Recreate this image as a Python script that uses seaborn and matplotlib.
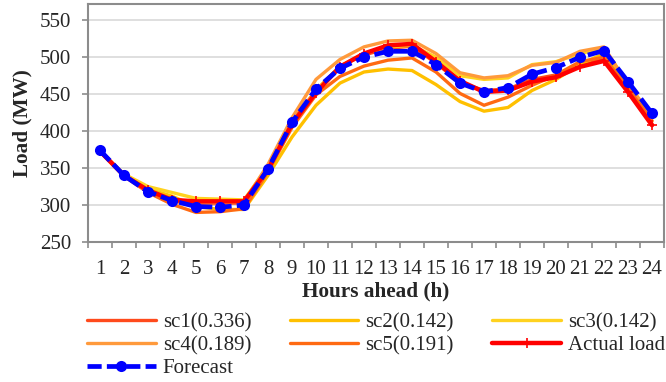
import numpy as np
import pandas as pd
import matplotlib
matplotlib.use("Agg")
import matplotlib.pyplot as plt
from matplotlib.ticker import FixedLocator
import seaborn as sns

hours = list(range(1, 25))
forecast = [374, 340, 318, 306, 298, 297, 300, 349, 412, 457, 485, 500, 508, 508, 490, 465, 453, 459, 477, 486, 500, 509, 467, 424]
actual = [373, 340, 320, 307, 305, 305, 305, 348, 410, 452, 487, 505, 516, 518, 494, 468, 453, 455, 467, 473, 487, 495, 453, 408]
sc1 = [372, 340, 319, 305, 302, 302, 303, 350, 413, 455, 488, 503, 512, 515, 492, 466, 455, 457, 470, 476, 490, 498, 456, 410]
sc2 = [372, 341, 322, 312, 298, 294, 294, 340, 392, 435, 465, 480, 484, 482, 463, 440, 427, 432, 455, 470, 490, 505, 458, 414]
sc3 = [373, 342, 325, 317, 309, 308, 307, 352, 410, 455, 488, 505, 514, 516, 500, 475, 470, 472, 490, 494, 505, 512, 465, 418]
sc4 = [372, 340, 320, 308, 303, 303, 304, 355, 418, 470, 497, 514, 522, 523, 505, 479, 472, 475, 489, 493, 508, 514, 462, 422]
sc5 = [372, 339, 317, 301, 290, 291, 295, 345, 405, 449, 474, 488, 496, 499, 480, 451, 435, 446, 462, 476, 494, 500, 458, 414]

scen_names = ["sc1(0.336)", "sc2(0.142)", "sc3(0.142)", "sc4(0.189)", "sc5(0.191)"]
scen_vals = [sc1, sc2, sc3, sc4, sc5]
scen_colors = ["#FF4A1C", "#FFC000", "#FFD21F", "#FF9A3C", "#FF6A12"]
yticks = [250, 300, 350, 400, 450, 500, 550]

sns.set_style("white")
plt.rcParams["font.family"] = ["Liberation Serif", "DejaVu Serif"]

fig = plt.figure(figsize=(6.66, 3.82), dpi=100)
ax = fig.add_axes([88 / 666, 1 - 242 / 382, (664 - 88) / 666, (242 - 4) / 382])

for name, vals, col in zip(scen_names, scen_vals, scen_colors):
    sns.lineplot(x=hours, y=vals, ax=ax, color=col, lw=2.4, label=name, zorder=3)

sns.lineplot(x=hours, y=actual, ax=ax, color="#FF0000", lw=3.2, marker="+",
             markersize=7, markeredgewidth=1.2, markeredgecolor="#FF0000",
             label="Actual load", zorder=4)
sns.lineplot(x=hours, y=forecast, ax=ax, color="#0000FF", lw=3.4, marker="o",
             markersize=8, markeredgewidth=0, markeredgecolor="#0000FF",
             label="Forecast", zorder=5)
ax.lines[-1].set_dashes((3.0, 1.1))

if ax.get_legend() is not None:
    ax.get_legend().remove()

ax.set_xlim(0.5, 24.5)
ax.set_ylim(250, 572)
ax.set_yticks(yticks)
ax.set_xticks(hours)
ax.set_xticklabels([str(h) for h in hours])
ax.xaxis.set_minor_locator(FixedLocator(np.arange(0.5, 25, 1)))

ax.yaxis.grid(True, color="#D9D9D9", lw=1.2)
ax.xaxis.grid(False)
ax.set_axisbelow(True)
for sp in ax.spines.values():
    sp.set_color("#8C8C8C")
    sp.set_linewidth(1.5)

ax.tick_params(axis="y", which="major", direction="out", length=4.3, width=1.2,
               color="#8C8C8C", labelsize=15, pad=8, left=True)
ax.tick_params(axis="x", which="major", length=0, labelsize=15, pad=13, bottom=True)
ax.tick_params(axis="x", which="minor", direction="out", length=4.3, width=1.2,
               color="#8C8C8C", bottom=True)

ax.set_xlabel("Hours ahead (h)", fontsize=15.3, fontweight="bold", labelpad=2)
ax.set_ylabel("Load (MW)", fontsize=15.3, fontweight="bold", labelpad=5)

handles, labels = ax.get_legend_handles_labels()
hmap = dict(zip(labels, handles))
order = ["sc1(0.336)", "sc4(0.189)", "Forecast", "sc2(0.142)", "sc5(0.191)", "sc3(0.142)", "Actual load"]
fig.legend([hmap[k] for k in order], order, loc="upper left",
           bbox_to_anchor=(87 / 666, 1 - 313 / 382), bbox_transform=fig.transFigure,
           ncol=3, frameon=False, fontsize=15, borderpad=0, borderaxespad=0,
           handlelength=3.3, handletextpad=0.33, columnspacing=1.85,
           labelspacing=0.15, numpoints=1)

fig.savefig("out.png", dpi=100)
